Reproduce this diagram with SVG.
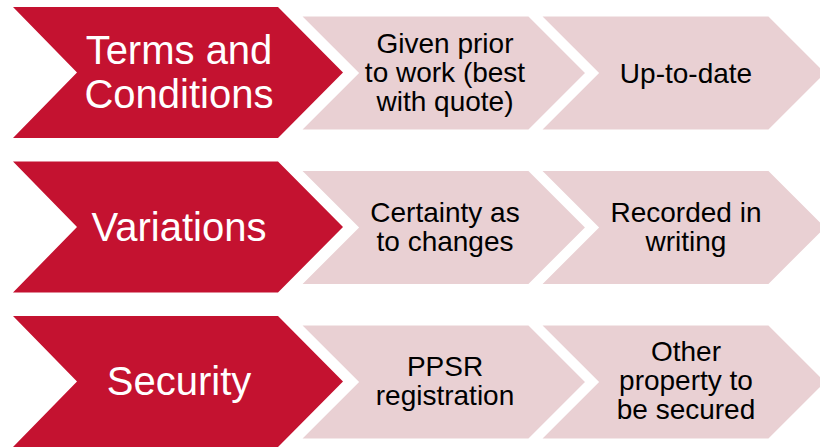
<svg xmlns="http://www.w3.org/2000/svg" width="820" height="448" viewBox="0 0 820 448">
<style>
.red{fill:#C41230;}
.pink{fill:#E9D0D3;stroke:#FFFFFF;stroke-width:3;}
.t{font-family:"Liberation Sans",Arial,sans-serif;text-anchor:middle;}
.w{fill:#FFFFFF;font-size:40px;}
.b{fill:#000000;font-size:28px;}
</style>
<rect width="820" height="448" fill="#FFFFFF"/>
<defs>
<polygon id="pk" points="0,-58 230,-58 288,0 230,58 0,58 58,0"/>
<polygon id="rd" points="0,-65.5 265,-65.5 330,0 265,65.5 0,65.5 64,0"/>
</defs>
<g id="row1">
<g id="r1c3"><use href="#pk" class="pink" x="539" y="73"/><text class="t b" x="686" y="83">Up-to-date</text></g>
<g id="r1c2"><use href="#pk" class="pink" x="299" y="73"/><text class="t b"><tspan x="445" y="53">Given prior</tspan><tspan x="445" y="82">to work (best</tspan><tspan x="445" y="111">with quote)</tspan></text></g>
<g id="r1c1"><use href="#rd" class="red" x="13" y="72.5"/><text class="t w"><tspan x="179" y="64">Terms and</tspan><tspan x="179" y="108">Conditions</tspan></text></g>
</g>
<g id="row2">
<g id="r2c3"><use href="#pk" class="pink" x="539" y="227.5"/><text class="t b"><tspan x="686" y="222">Recorded in</tspan><tspan x="686" y="251">writing</tspan></text></g>
<g id="r2c2"><use href="#pk" class="pink" x="299" y="227.5"/><text class="t b"><tspan x="445" y="222">Certainty as</tspan><tspan x="445" y="251">to changes</tspan></text></g>
<g id="r2c1"><use href="#rd" class="red" x="13" y="227"/><text class="t w" x="179" y="241">Variations</text></g>
</g>
<g id="row3">
<g id="r3c3"><use href="#pk" class="pink" x="539" y="382"/><text class="t b"><tspan x="686" y="361">Other</tspan><tspan x="686" y="390">property to</tspan><tspan x="686" y="419">be secured</tspan></text></g>
<g id="r3c2"><use href="#pk" class="pink" x="299" y="382"/><text class="t b"><tspan x="445" y="376">PPSR</tspan><tspan x="445" y="405">registration</tspan></text></g>
<g id="r3c1"><use href="#rd" class="red" x="13" y="381.5"/><text class="t w" x="179" y="395">Security</text></g>
</g>
<g id="connectors"/>
</svg>
